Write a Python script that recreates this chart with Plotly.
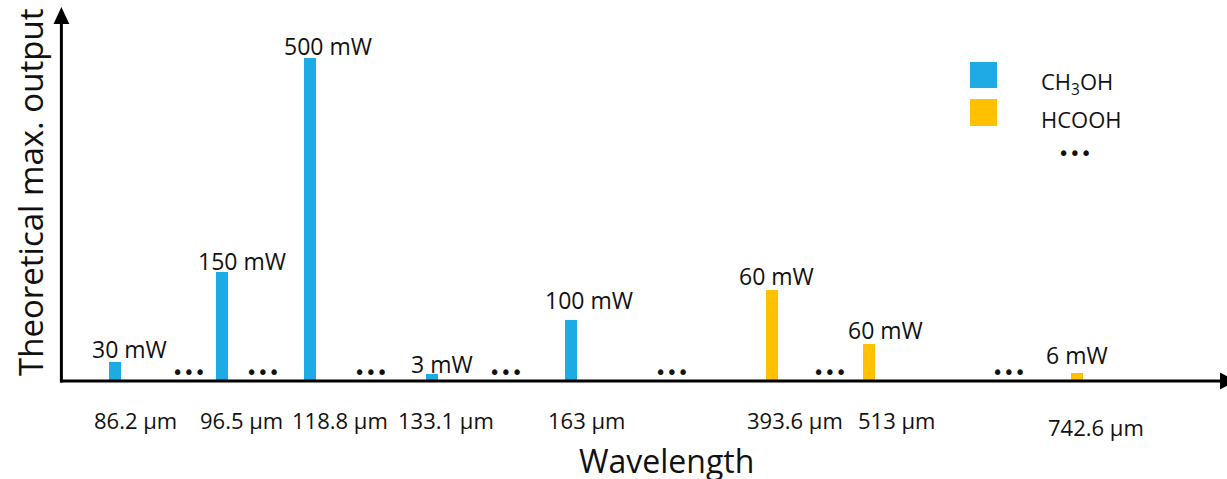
import plotly.graph_objects as go

# ---- data ----
wavelengths = ["86.2 µm", "96.5 µm", "118.8 µm", "133.1 µm", "163 µm", "393.6 µm", "513 µm", "742.6 µm"]
power_labels = ["30 mW", "150 mW", "500 mW", "3 mW", "100 mW", "60 mW", "60 mW", "6 mW"]
molecule = ["CH3OH", "CH3OH", "CH3OH", "CH3OH", "CH3OH", "HCOOH", "HCOOH", "HCOOH"]
# relative (schematic) bar heights as drawn
bar_heights = [18, 108, 322, 6, 60, 90, 36, 7]

# ---- layout helpers (schematic positions on a non-linear axis) ----
slot_x = [115, 222, 310, 432, 571, 772, 869, 1077]
value_label_x = [129, 242, 328, 442, 589, 776, 885, 1077]
value_label_gap = [13, 11, 12, 10, 20, 14, 14, 18]
tick_label_x = [135, 241, 340, 446, 586, 795, 896, 1096]
tick_label_y = [-40, -40, -40, -40, -40, -40, -40, -47]
ellipsis_x = [189, 263, 371, 506, 672, 830, 1009]

colors = {"CH3OH": "#1EABE3", "HCOOH": "#FFC000"}
FONT = "Open Sans"
TXT = "#111111"

fig = go.Figure()
for mol in ["CH3OH", "HCOOH"]:
    idx = [i for i, m in enumerate(molecule) if m == mol]
    fig.add_trace(go.Bar(
        x=[slot_x[i] for i in idx],
        y=[bar_heights[i] for i in idx],
        width=12,
        marker=dict(color=colors[mol], line=dict(width=0)),
        name=mol,
        showlegend=False,
        hoverinfo="skip",
    ))

ann = []
# value labels
for i in range(len(bar_heights)):
    ann.append(dict(x=value_label_x[i], y=bar_heights[i] + value_label_gap[i], text=power_labels[i],
                    showarrow=False, xanchor="center", yanchor="middle",
                    font=dict(family=FONT, size=23, color=TXT)))
# category labels
for i, w in enumerate(wavelengths):
    ann.append(dict(x=tick_label_x[i], y=tick_label_y[i], text=w, showarrow=False,
                    xanchor="center", yanchor="middle",
                    font=dict(family=FONT, size=22, color=TXT)))
# ellipses
for ex in ellipsis_x:
    ann.append(dict(x=ex, y=8, text="•••", showarrow=False, xanchor="center", yanchor="middle",
                    font=dict(family="DejaVu Sans", size=19, color=TXT)))
ann.append(dict(x=1075, y=227, text="•••", showarrow=False, xanchor="center", yanchor="middle",
                font=dict(family="DejaVu Sans", size=19, color=TXT)))
# axis titles
ann.append(dict(x=30, y=187, text="Theoretical max. output", textangle=-90, showarrow=False,
                xanchor="center", yanchor="middle", font=dict(family=FONT, size=33, color=TXT)))
ann.append(dict(x=666, y=-80, text="Wavelength", showarrow=False,
                xanchor="center", yanchor="middle", font=dict(family=FONT, size=32, color=TXT)))
# legend texts
ann.append(dict(x=1039, y=297, text="CH<sub>3</sub>OH", showarrow=False, xanchor="left", yanchor="middle",
                font=dict(family=FONT, size=22, color=TXT)))
ann.append(dict(x=1039, y=261, text="HCOOH", showarrow=False, xanchor="left", yanchor="middle",
                font=dict(family=FONT, size=22, color=TXT)))

shapes = [
    # legend swatches
    dict(type="rect", x0=970, x1=997, y0=292, y1=318, fillcolor=colors["CH3OH"], line=dict(width=0)),
    dict(type="rect", x0=970, x1=997, y0=254, y1=281, fillcolor=colors["HCOOH"], line=dict(width=0)),
    # axis lines
    dict(type="line", x0=61.4, x1=61.4, y0=-2.4, y1=358, line=dict(color="black", width=3)),
    dict(type="line", x0=60, x1=1222, y0=-1, y1=-1, line=dict(color="black", width=3)),
    # arrow heads
    dict(type="path", path="M 53.5 356 L 69.3 356 L 61.4 373 Z", fillcolor="black", line=dict(width=0)),
    dict(type="path", path="M 1220 7.5 L 1220 -9.5 L 1236 -1 Z", fillcolor="black", line=dict(width=0)),
]

fig.update_layout(
    width=1227, height=479,
    margin=dict(l=0, r=0, t=0, b=0),
    paper_bgcolor="white", plot_bgcolor="white",
    xaxis=dict(range=[0, 1227], visible=False, fixedrange=True),
    yaxis=dict(range=[-99, 380], visible=False, fixedrange=True),
    annotations=ann, shapes=shapes,
    bargap=0, showlegend=False, hovermode=False,
)
fig.write_html("out.html", config={"displayModeBar": False, "staticPlot": True},
               post_script="document.body.style.margin='0';document.body.style.overflow='hidden';")
